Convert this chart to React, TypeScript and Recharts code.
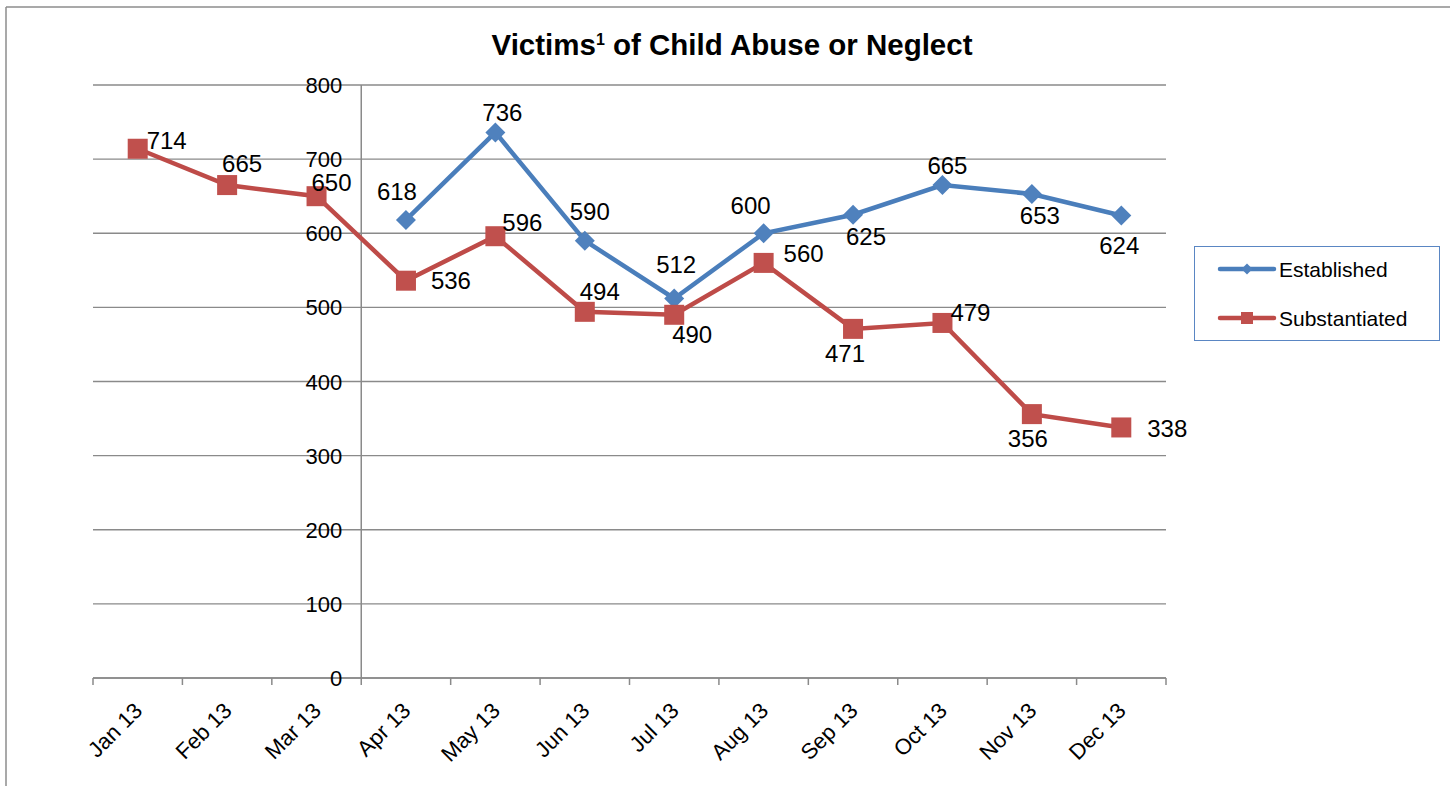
import { LineChart, Line, XAxis, YAxis, CartesianGrid, ReferenceLine, LabelList, Legend } from 'recharts';

const months = ['Jan 13', 'Feb 13', 'Mar 13', 'Apr 13', 'May 13', 'Jun 13', 'Jul 13', 'Aug 13', 'Sep 13', 'Oct 13', 'Nov 13', 'Dec 13'];
const established = [null, null, null, 618, 736, 590, 512, 600, 625, 665, 653, 624];
const substantiated = [714, 665, 650, 536, 596, 494, 490, 560, 471, 479, 356, 338];
const yTicks = [0, 100, 200, 300, 400, 500, 600, 700, 800];

// where each value label sits, relative to its marker (label centre)
const establishedLabelOffsets = [[0, 0], [0, 0], [0, 0], [-9, -28], [7, -20], [5, -29], [2, -34], [-13, -28], [13, 22], [5, -20], [8, 22], [-2, 30]];
const substantiatedLabelOffsets = [[29, -8], [15, -22], [15, -14], [45, 0], [27, -14], [15, -20], [18, 20], [40, -9], [-8, 25], [28, -10], [-4, 24], [46, 1]];

const W = 1450;
const H = 786;
const PLOT_LEFT = 93;
const PLOT_RIGHT = 1166;
const PLOT_TOP = 85;
const PLOT_BOTTOM = 678;
const Y_AXIS_W = 1;
const BAND = (PLOT_RIGHT - PLOT_LEFT) / months.length;
// the value axis crosses the category axis before Apr 13
const Y_CROSS = months.indexOf('Apr 13') - 0.5;
const Y_AXIS_X = PLOT_LEFT + (Y_CROSS + 0.5) * BAND;

const FONT = '"Liberation Sans", Arial, sans-serif';
const BLUE = '#4a7ebb';
const BLUE_FILL = '#4f81bd';
const RED = '#be4b48';
const RED_FILL = '#c0504d';
const GRID = '#8a8a8a';

const data = months.map((month, i) => ({
  idx: i,
  month,
  established: established[i],
  substantiated: substantiated[i],
}));

const edges = months.map((_, i) => i - 0.5).concat(months.length - 0.5);

const Diamond = ({ cx, cy, r, fill }: { cx: number; cy: number; r: number; fill: string }) => (
  <polygon points={`${cx},${cy - r} ${cx + r},${cy} ${cx},${cy + r} ${cx - r},${cy}`} fill={fill} />
);

const Square = ({ cx, cy, r, fill }: { cx: number; cy: number; r: number; fill: string }) => (
  <rect x={cx - r} y={cy - r} width={r * 2} height={r * 2} fill={fill} />
);

const diamondDot = (props: any) => {
  const { cx, cy, index, value } = props;
  if (value == null || cy == null) return <g key={`ed-${index}`} />;
  return <Diamond key={`ed-${index}`} cx={cx} cy={cy} r={10} fill={BLUE_FILL} />;
};

const squareDot = (props: any) => {
  const { cx, cy, index, value } = props;
  if (value == null || cy == null) return <g key={`sd-${index}`} />;
  return <Square key={`sd-${index}`} cx={cx} cy={cy} r={10} fill={RED_FILL} />;
};

const makeLabel = (offsets: number[][]) => (props: any) => {
  const { value, index } = props;
  if (value == null) return null;
  const x = props.x ?? props.viewBox?.x;
  const y = props.y ?? props.viewBox?.y;
  if (x == null || y == null) return null;
  const [dx, dy] = offsets[index] ?? [0, 0];
  return (
    <text x={x + dx} y={y + dy + 8.5} textAnchor="middle" fontFamily={FONT} fontSize={24} fill="#000">
      {value}
    </text>
  );
};

const YTick = ({ y, payload }: any) => (
  <text x={Y_AXIS_X - 19} y={y + 8} textAnchor="end" fontFamily={FONT} fontSize={22} fill="#000">
    {payload.value}
  </text>
);

const XTick = ({ x, y, payload }: any) => {
  const i = payload.value + 0.5;
  if (i < 0 || i >= months.length) return <g />;
  const px = x + BAND / 2 + 6;
  const py = y + 27;
  return (
    <text x={px} y={py} textAnchor="end" transform={`rotate(-45 ${px} ${py})`} fontFamily={FONT} fontSize={22} fill="#000">
      {months[i]}
    </text>
  );
};

const LegendBox = ({ payload }: any) => (
  <div style={{ width: 246, height: 95, boxSizing: 'border-box', border: '1.5px solid #5a86c3', background: '#fff' }}>
    <svg width={243} height={92} style={{ display: 'block' }}>
      {(payload ?? []).map((p: any, i: number) => {
        const cy = 22 + i * 49;
        const isEst = p.dataKey === 'established';
        return (
          <g key={p.value}>
            <line x1={25} x2={79} y1={cy} y2={cy} stroke={isEst ? BLUE : RED} strokeWidth={4.5} strokeLinecap="round" />
            {isEst ? <Diamond cx={52} cy={cy} r={5.5} fill={BLUE_FILL} /> : <Square cx={52} cy={cy} r={6} fill={RED_FILL} />}
            <text x={84} y={cy + 7.5} fontFamily={FONT} fontSize={21} fill="#000">{p.value}</text>
          </g>
        );
      })}
    </svg>
  </div>
);

export default function App() {
  return (
    <div style={{ position: 'relative', width: W, height: H, background: '#fff' }}>
      <style>{'body{margin:0}'}</style>
      <svg width={W} height={H} style={{ position: 'absolute', left: 0, top: 0 }}>
        <line x1={6} x2={W} y1={7} y2={7} stroke="#8c8c8c" strokeWidth={1.5} />
        <line x1={6} x2={6} y1={7} y2={H} stroke="#8c8c8c" strokeWidth={1.5} />
        <text x={732} y={55} textAnchor="middle" fontFamily={FONT} fontSize={29.5} fontWeight="bold" fill="#000">
          Victims<tspan fontSize={16} dy={-10}>1</tspan><tspan dy={10}> of Child Abuse or Neglect</tspan>
        </text>
      </svg>
      <div style={{ position: 'absolute', left: 0, top: 0 }}>
        <LineChart
          width={W}
          height={H}
          data={data}
          margin={{ top: PLOT_TOP, right: W - PLOT_RIGHT, bottom: 0, left: PLOT_LEFT - Y_AXIS_W }}
        >
          <CartesianGrid vertical={false} stroke={GRID} strokeWidth={1.3} />
          <XAxis
            dataKey="idx"
            type="number"
            domain={[-0.5, months.length - 0.5]}
            ticks={edges}
            interval={0}
            height={H - PLOT_BOTTOM}
            tickSize={7}
            tickMargin={0}
            axisLine={{ stroke: GRID, strokeWidth: 1.5 }}
            tickLine={{ stroke: GRID, strokeWidth: 1.5 }}
            tick={<XTick />}
          />
          <YAxis
            type="number"
            domain={[0, 800]}
            ticks={yTicks}
            interval={0}
            width={Y_AXIS_W}
            axisLine={false}
            tickLine={false}
            tick={<YTick />}
          />
          <ReferenceLine x={Y_CROSS} stroke={GRID} strokeWidth={1.5} />
          <Legend
            layout="vertical"
            align="center"
            verticalAlign="middle"
            wrapperStyle={{ left: 1194, top: 246, width: 246, height: 95 }}
            content={<LegendBox />}
          />
          <Line
            dataKey="established"
            name="Established"
            stroke={BLUE}
            strokeWidth={4.5}
            dot={diamondDot}
            activeDot={false}
            isAnimationActive={false}
          >
            <LabelList dataKey="established" content={makeLabel(establishedLabelOffsets)} />
          </Line>
          <Line
            dataKey="substantiated"
            name="Substantiated"
            stroke={RED}
            strokeWidth={4.5}
            dot={squareDot}
            activeDot={false}
            isAnimationActive={false}
          >
            <LabelList dataKey="substantiated" content={makeLabel(substantiatedLabelOffsets)} />
          </Line>
        </LineChart>
      </div>
    </div>
  );
}
